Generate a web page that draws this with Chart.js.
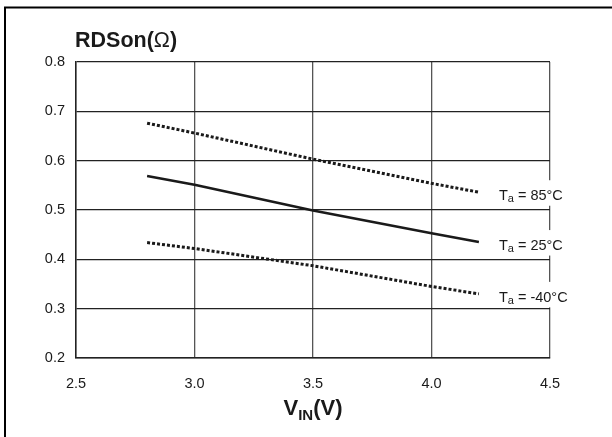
<!DOCTYPE html>
<html lang="en">
<head>
    <meta charset="UTF-8">
    <title>RDSon vs VIN</title>
    <script src="https://cdn.jsdelivr.net/npm/chart.js@4.4.0/dist/chart.umd.min.js"></script>
    <style>
        html, body { margin: 0; padding: 0; background: #fff; }
        #wrap { width: 612px; height: 437px; }
    </style>
</head>
<body>
    <div id="wrap">
        <canvas id="rdsChart" width="612" height="437"></canvas>
    </div>
    <script>
        // values
        const vin = [2.8, 3.0, 3.5, 4.0, 4.2];
        const rds85 = [0.676, 0.656, 0.603, 0.554, 0.536];
        const rds25 = [0.569, 0.551, 0.499, 0.453, 0.435];
        const rdsMinus40 = [0.434, 0.422, 0.387, 0.345, 0.330];
        const seriesTemps = ['85°C', '25°C', '-40°C'];
        const xTicks = [2.5, 3.0, 3.5, 4.0, 4.5];
        const yTicks = [0.2, 0.3, 0.4, 0.5, 0.6, 0.7, 0.8];

        const FONT = '"Liberation Sans", Arial, Helvetica, sans-serif';
        const INK = '#1a1a1a';

        const toPoints = (ys) => vin.map((x, i) => ({ x: x, y: ys[i] }));

        const frame = {
            id: 'frame',
            beforeDraw(chart) {
                const ctx = chart.ctx;
                ctx.save();
                ctx.fillStyle = '#fff';
                ctx.fillRect(0, 0, chart.width, chart.height);
                ctx.strokeStyle = '#000';
                ctx.lineWidth = 2;
                ctx.beginPath();
                ctx.moveTo(4, 7.5);
                ctx.lineTo(chart.width, 7.5);
                ctx.moveTo(5, 7.5);
                ctx.lineTo(5, chart.height);
                ctx.stroke();
                ctx.restore();
            }
        };

        // curve labels "Ta = xx°C" at the right end of each line
        const curveLabels = {
            id: 'curveLabels',
            afterDatasetsDraw(chart) {
                const ctx = chart.ctx;
                ctx.save();
                chart.data.datasets.forEach((ds, i) => {
                    const meta = chart.getDatasetMeta(i);
                    const last = meta.data[meta.data.length - 1];
                    const x = last.x + 20;
                    const y = last.y;
                    ctx.fillStyle = '#fff';
                    ctx.fillRect(x - 11, y - 12, 80, 25.5);
                    ctx.fillStyle = INK;
                    ctx.textBaseline = 'alphabetic';
                    ctx.textAlign = 'left';
                    const base = y + 8;
                    ctx.font = '14.5px ' + FONT;
                    ctx.fillText('T', x, base);
                    let cx = x + ctx.measureText('T').width;
                    ctx.font = '11px ' + FONT;
                    ctx.fillText('a', cx, base + 2);
                    cx += ctx.measureText('a').width;
                    ctx.font = '14.5px ' + FONT;
                    ctx.fillText(' = ' + seriesTemps[i], cx, base);
                });
                ctx.restore();
            }
        };

        const axisTitles = {
            id: 'axisTitles',
            afterDraw(chart) {
                const ctx = chart.ctx;
                const area = chart.chartArea;
                ctx.save();
                ctx.fillStyle = INK;
                ctx.textBaseline = 'alphabetic';
                ctx.textAlign = 'left';

                // y title
                let x = area.left - 1;
                const yb = area.top - 15;
                ctx.font = 'bold 21.5px ' + FONT;
                ctx.fillText('RDSon(', x, yb);
                x += ctx.measureText('RDSon(').width;
                ctx.font = '21.5px ' + FONT;
                ctx.fillText('Ω', x, yb);
                x += ctx.measureText('Ω').width;
                ctx.font = 'bold 21.5px ' + FONT;
                ctx.fillText(')', x, yb);

                // x title V_IN(V)
                ctx.font = 'bold 22px ' + FONT;
                const wV = ctx.measureText('V').width;
                const wP = ctx.measureText('(V)').width;
                ctx.font = 'bold 15px ' + FONT;
                const wS = ctx.measureText('IN').width;
                const total = wV + wS + wP;
                const xb = area.bottom + 57;
                x = (area.left + area.right) / 2 - total / 2;
                ctx.font = 'bold 22px ' + FONT;
                ctx.fillText('V', x, xb);
                x += wV;
                ctx.font = 'bold 15px ' + FONT;
                ctx.fillText('IN', x, xb + 5);
                x += wS;
                ctx.font = 'bold 22px ' + FONT;
                ctx.fillText('(V)', x, xb);
                ctx.restore();
            }
        };

        const lineStyle = {
            borderColor: INK,
            borderWidth: 2.6,
            pointRadius: 0,
            tension: 0,
            fill: false
        };
        const dotted = { borderWidth: 3, borderDash: [3, 2], borderCapStyle: 'butt' };

        new Chart(document.getElementById('rdsChart'), {
            type: 'line',
            data: {
                datasets: [
                    Object.assign({ label: 'Ta = 85°C', data: toPoints(rds85) }, lineStyle, dotted),
                    Object.assign({ label: 'Ta = 25°C', data: toPoints(rds25) }, lineStyle),
                    Object.assign({ label: 'Ta = -40°C', data: toPoints(rdsMinus40) }, lineStyle, dotted)
                ]
            },
            options: {
                responsive: false,
                animation: false,
                layout: { padding: { left: 0, right: 62, top: 62, bottom: 0 } },
                plugins: {
                    legend: { display: false },
                    tooltip: { enabled: false }
                },
                scales: {
                    x: {
                        type: 'linear',
                        min: 2.5,
                        max: 4.5,
                        afterBuildTicks: (s) => { s.ticks = xTicks.map(v => ({ value: v })); },
                        afterFit: (s) => { s.height = 79; },
                        grid: { color: '#555', lineWidth: 1.3, drawTicks: false },
                        border: { color: '#222', width: 1.5 },
                        ticks: {
                            padding: 17,
                            color: INK,
                            font: { family: FONT, size: 14.5 },
                            maxRotation: 0,
                            callback: (v) => Number(v).toFixed(1)
                        }
                    },
                    y: {
                        min: 0.2,
                        max: 0.8,
                        afterBuildTicks: (s) => { s.ticks = yTicks.map(v => ({ value: v })); },
                        afterFit: (s) => { s.width = 76; },
                        grid: { color: '#222', lineWidth: 1.2, drawTicks: false },
                        border: { color: '#222', width: 1.5 },
                        ticks: {
                            padding: 11,
                            color: INK,
                            font: { family: FONT, size: 14.5 },
                            callback: (v) => Number(v).toFixed(1)
                        }
                    }
                }
            },
            plugins: [frame, curveLabels, axisTitles]
        });
    </script>
</body>
</html>
